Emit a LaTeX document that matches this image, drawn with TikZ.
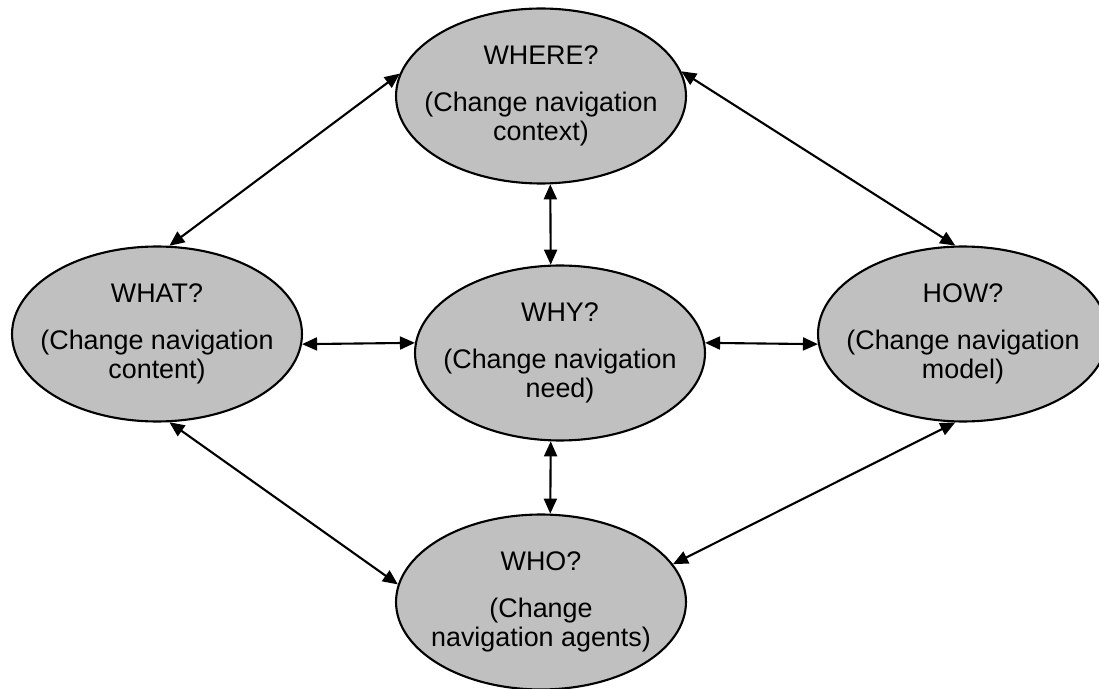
\documentclass[tikz,border=0pt]{standalone}
\usepackage{fontspec}
\setmainfont{Liberation Sans}
\usetikzlibrary{shapes}
\usetikzlibrary{arrows.meta}
\definecolor{bubble}{HTML}{C0C0C0}
\tikzset{topic/.style={ellipse, draw, fill=bubble, line width=1.2pt, minimum width=5.8cm, minimum height=3.5cm, inner sep=0pt}}
\tikzset{caption/.style={align=center, font=\fontsize{15.3}{16.8}\selectfont}}
\tikzset{link/.style={{Triangle[length=0.3cm,width=0.26cm]}-{Triangle[length=0.3cm,width=0.26cm]}, line width=1.2pt}}

\begin{document}
\begin{tikzpicture}[x=0.02cm,y=-0.02cm]
  \useasboundingbox (0,0) rectangle (1099,689);
  \foreach \x/\y/\lab/\txt in {
    541/96/where/{WHERE?\\[10pt](Change navigation\\context)},
    157/334/what/{WHAT?\\[10pt](Change navigation\\content)},
    560/353/why/{WHY?\\[10pt](Change navigation\\need)},
    963/334/how/{HOW?\\[10pt](Change navigation\\model)},
    541/602/who/{WHO?\\[10pt](Change\\navigation agents)}%
  } {
    \node[topic, label={[caption]center:\txt}] (\lab) at (\x, \y) {};
  }
  \foreach \u/\v in {
    where.171/what.82,
    where.10/how.95,
    where.276/why.96,
    why.264/who.84,
    what.356/why.176,
    why.4/how.184,
    what.278/who.173,
    how.265/who.16%
  } {
    \draw[link] (\u) -- (\v);
  }
\end{tikzpicture}
\end{document}
